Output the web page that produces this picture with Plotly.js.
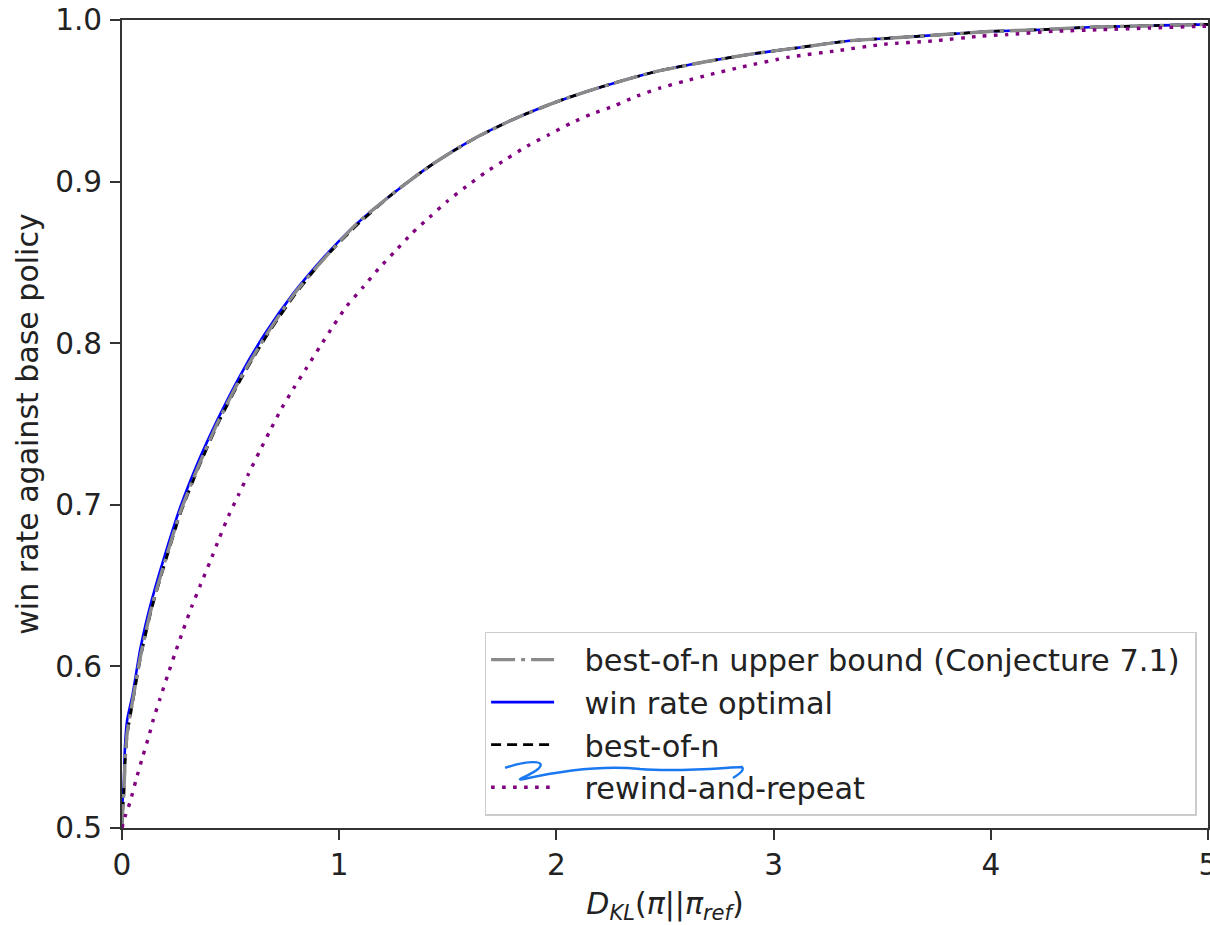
<!DOCTYPE html>
<html>
<head>
<meta charset="utf-8">
<script src="https://cdn.plot.ly/plotly-3.0.1.min.js"></script>
<style>
  html, body { margin: 0; padding: 0; background: #fff; }
  #chart { width: 1210px; height: 925px; }
</style>
</head>
<body>
<div id="chart"></div>
<script>
// ---- data ----
const mainX = [0, 0.002, 0.009, 0.014, 0.024, 0.048, 0.086, 0.137, 0.200, 0.267, 0.349, 0.441, 0.544, 0.659, 0.790, 0.928, 1.081, 1.251, 1.432, 1.627, 1.826, 2.034, 2.241, 2.456, 2.679, 2.902, 3.120, 3.340, 3.562, 3.785, 4.007, 4.230, 4.453, 4.676, 4.899, 5.0];
const winRateOptimalY = [0.5, 0.515, 0.530, 0.551, 0.567, 0.582, 0.612, 0.641, 0.670, 0.698, 0.726, 0.753, 0.780, 0.806, 0.831, 0.853, 0.874, 0.893, 0.911, 0.927, 0.940, 0.951, 0.960, 0.968, 0.974, 0.979, 0.983, 0.987, 0.989, 0.991, 0.993, 0.994, 0.9955, 0.9963, 0.997, 0.9973];
const bestOfNY = [0.5, 0.508, 0.522, 0.540, 0.558, 0.577, 0.606, 0.636, 0.665, 0.694, 0.722, 0.750, 0.777, 0.803, 0.829, 0.852, 0.873, 0.893, 0.911, 0.927, 0.940, 0.951, 0.960, 0.968, 0.974, 0.979, 0.983, 0.987, 0.989, 0.991, 0.993, 0.994, 0.9955, 0.9963, 0.997, 0.9973];
const upperBoundY = [0.5, 0.509, 0.523, 0.541, 0.559, 0.578, 0.607, 0.637, 0.666, 0.695, 0.723, 0.751, 0.778, 0.804, 0.830, 0.852, 0.874, 0.893, 0.911, 0.927, 0.940, 0.951, 0.960, 0.968, 0.974, 0.979, 0.983, 0.987, 0.989, 0.991, 0.993, 0.994, 0.9955, 0.9963, 0.997, 0.9973];

const rewindX = [0, 0.014, 0.037, 0.065, 0.095, 0.126, 0.144, 0.175, 0.209, 0.244, 0.283, 0.321, 0.363, 0.406, 0.447, 0.490, 0.536, 0.582, 0.633, 0.682, 0.736, 0.790, 0.851, 0.912, 0.974, 1.035, 1.112, 1.181, 1.258, 1.335, 1.416, 1.499, 1.585, 1.677, 1.770, 1.865, 1.965, 2.065, 2.165, 2.269, 2.372, 2.479, 2.587, 2.700, 2.856, 3.071, 3.293, 3.508, 3.731, 3.954, 4.077, 4.292, 4.507, 4.730, 4.952, 5.0];
const rewindY = [0.5, 0.507, 0.516, 0.530, 0.544, 0.558, 0.567, 0.580, 0.594, 0.608, 0.623, 0.637, 0.651, 0.665, 0.679, 0.693, 0.706, 0.719, 0.733, 0.746, 0.760, 0.772, 0.785, 0.798, 0.811, 0.823, 0.835, 0.846, 0.857, 0.868, 0.878, 0.888, 0.897, 0.906, 0.914, 0.922, 0.929, 0.936, 0.942, 0.947, 0.953, 0.958, 0.962, 0.966, 0.971, 0.977, 0.981, 0.985, 0.987, 0.990, 0.991, 0.993, 0.994, 0.995, 0.996, 0.9962];

const seriesNames = ['best-of-n upper bound (Conjecture 7.1)', 'win rate optimal', 'best-of-n', 'rewind-and-repeat'];
const xTickVals = [0, 1, 2, 3, 4, 5];
const xTickText = ['0', '1', '2', '3', '4', '5'];
const yTickVals = [0.5, 0.6, 0.7, 0.8, 0.9, 1.0];
const yTickText = ['0.5', '0.6', '0.7', '0.8', '0.9', '1.0'];

const FONT = 'DejaVu Sans, Liberation Sans, sans-serif';
const PADL = '\u00a0\u00a0\u2009';
const PADR = '\u00a0';
function legendName(s) { return PADL + s + PADR; }

const traces = [
  { x: mainX, y: winRateOptimalY, name: legendName(seriesNames[1]), legendrank: 2, legendgroup: 'b',
    mode: 'lines', line: { color: '#0000ff', width: 2.6, shape: 'spline', smoothing: 0.6 } },
  { x: mainX, y: bestOfNY, name: legendName(seriesNames[2]), legendrank: 3, legendgroup: 'c',
    mode: 'lines', line: { color: '#000000', width: 2.8, dash: '10px,6px', shape: 'spline', smoothing: 0.6 } },
  { x: mainX, y: upperBoundY, name: legendName(seriesNames[0]), legendrank: 1, legendgroup: 'a',
    mode: 'lines', line: { color: '#8a8a8a', width: 3.4, dash: '24px,6px,4px,6px', shape: 'spline', smoothing: 0.6 } },
  { x: rewindX, y: rewindY, name: legendName(seriesNames[3]), legendrank: 4, legendgroup: 'd',
    mode: 'lines', line: { color: '#800080', width: 3.4, dash: '3.6px,7.4px', shape: 'spline', smoothing: 0.6 } }
];

const axisCommon = {
  showline: true, mirror: true, linecolor: '#333333', linewidth: 2,
  ticks: 'outside', ticklen: 10, tickwidth: 2, tickcolor: '#333333',
  showgrid: false, zeroline: false, automargin: false,
  ticklabeloverflow: 'allow',
  tickfont: { family: FONT, size: 29.5, color: '#222222' }
};

// hand-drawn blue pen stroke seen in the reference legend (pixel coords -> paper)
const L = 122, R = 1208, T = 20, B = 828;
function px(x) { return ((x - L) / (R - L)).toFixed(4); }
function py(y) { return ((B - y) / (B - T)).toFixed(4); }
const scribblePts = [
  ['M', 505, 768],
  ['C', 528, 760, 548, 760, 538, 769],
  ['C', 530, 776, 512, 781, 524, 779],
  ['C', 560, 771, 600, 765, 640, 769],
  ['C', 680, 772, 720, 768, 742, 767],
  ['C', 745, 770, 738, 775, 733, 778]
];
const scribblePath = scribblePts.map(s => {
  const cmd = s[0]; const nums = s.slice(1);
  const parts = [];
  for (let i = 0; i < nums.length; i += 2) parts.push(px(nums[i]) + ',' + py(nums[i + 1]));
  return cmd + ' ' + parts.join(' ');
}).join(' ');

const layout = {
  width: 1210, height: 925,
  margin: { l: 122, r: 2, t: 20, b: 97 },
  paper_bgcolor: '#ffffff', plot_bgcolor: '#ffffff',
  showlegend: true,
  xaxis: Object.assign({}, axisCommon, {
    range: [0, 5], tickmode: 'array', tickvals: xTickVals, ticktext: xTickText,
    title: { text: '<i>D</i><sub><i>KL</i></sub>(<i>π</i>||<i>π</i><sub><i>ref</i></sub>)',
             font: { family: FONT, size: 30, color: '#222222' }, standoff: 12 }
  }),
  yaxis: Object.assign({}, axisCommon, {
    range: [0.5, 1.0], tickmode: 'array', tickvals: yTickVals, ticktext: yTickText,
    ticklabelstandoff: 2,
    title: { text: 'win rate against base policy',
             font: { family: FONT, size: 30, color: '#222222' }, standoff: 8 }
  }),
  legend: {
    x: 0.9895, y: 0.015, xanchor: 'right', yanchor: 'bottom',
    bgcolor: 'rgba(255,255,255,0)', bordercolor: '#cccccc', borderwidth: 1.5,
    font: { family: FONT, size: 30.4, color: '#222222' },
    tracegroupgap: 7, itemwidth: 63,
    traceorder: 'normal'
  },
  shapes: [
    { type: 'path', xref: 'paper', yref: 'paper', path: scribblePath,
      line: { color: '#1a78f0', width: 2.4 }, layer: 'above' }
  ]
};

Plotly.newPlot('chart', traces, layout, { displayModeBar: false, staticPlot: true });
</script>
</body>
</html>
